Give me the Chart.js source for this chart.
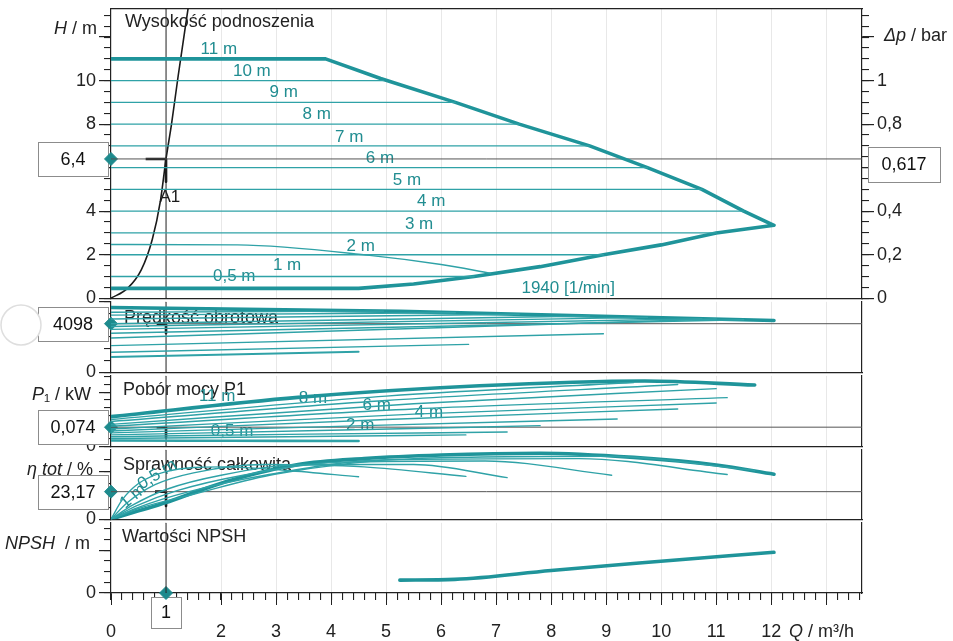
<!DOCTYPE html>
<html>
<head>
<meta charset="utf-8">
<script src="https://cdn.jsdelivr.net/npm/chart.js"></script>
<style>
  html, body { margin: 0; padding: 0; background: #fff; }
  #wrap { position: relative; width: 953px; height: 641px; overflow: hidden; background: #fff; }
  #wrap canvas { position: absolute; left: 0; }
</style>
</head>
<body>
<div id="wrap">
  <canvas id="cH"></canvas>
  <canvas id="cN"></canvas>
  <canvas id="cP"></canvas>
  <canvas id="cE"></canvas>
  <canvas id="cS"></canvas>
</div>
<script>
// ===== Data =====

// shared Q axis / operating point
const Q_MAX = 13.65;
const opQ = 1;
const opH = 6.4;
const opDp = 0.617;
const opSpeed = 4098;
const opPower = 0.074;
const opEff = 23.17;

// Wysokość podnoszenia (H / m)
const H_MAX = 13.3;
const DP_PER_M = 0.1;
const envQ = [0, 3.9, 4.9, 6.26, 7.42, 8.7, 9.75, 10.74, 11.5, 12.05, 11.0, 10.0, 8.95, 7.8, 6.6, 5.5, 4.5, 0];
const envH = [11, 11, 10.1, 9.0, 8.0, 7.0, 6.0, 5.0, 4.0, 3.35, 3.0, 2.45, 2.0, 1.45, 1.0, 0.65, 0.45, 0.45];
const headLevels = [10, 9, 8, 7, 6, 5, 4, 3, 2, 1];
const headEndQ = [4.95, 6.26, 7.42, 8.7, 9.75, 10.74, 11.5, 11.0, 8.95, 6.6];
const droopQ = [0, 2.3, 4.7, 6.0, 6.9];
const droopH = [2.47, 2.45, 1.97, 1.55, 1.15];
const sysQ = [0, 0.3, 0.55, 0.75, 0.9, 1.0, 1.1, 1.22, 1.4];
const sysH = [0, 0.45, 1.3, 2.7, 4.5, 6.4, 8.0, 10.2, 13.3];
const hLabelText = ['11 m', '10 m', '9 m', '8 m', '7 m', '6 m', '5 m', '4 m', '3 m', '2 m', '1 m', '0,5 m', '1940 [1/min]'];
const hLabelQ = [1.96, 2.56, 3.14, 3.74, 4.33, 4.89, 5.38, 5.82, 5.6, 4.54, 3.2, 2.24, 8.31];
const hLabelH = [11.44, 10.44, 9.44, 8.44, 7.4, 6.45, 5.4, 4.45, 3.4, 2.4, 1.5, 1.0, 0.45];

// Prędkość obrotowa (1/min)
const SPEED_MAX = 5950;
const speedEnvQ = [0, 5.25, 12.05];
const speedEnv = [5464, 5142, 4371];
const speedStart = [5062, 4821, 4500, 4098, 3857, 3616, 3295, 2893, 2250, 1687, 1286];
const speedEndQ = [4.95, 6.26, 7.42, 8.7, 9.75, 10.74, 11.5, 11.0, 8.95, 6.5, 4.5];
const speedEnd = [5160, 5027, 4896, 4751, 4632, 4519, 4433, 4490, 3246, 2354, 1736];

// Pobór mocy P1 (kW)
const P_MAX = 0.274;
const powEnvQ = [0, 3.4, 6.7, 9.7, 11.7];
const powEnv = [0.115, 0.19, 0.235, 0.254, 0.238];
const powStart = [0.104, 0.096, 0.085, 0.078, 0.067, 0.059, 0.052, 0.044, 0.037, 0.030, 0.022];
const powMidQ = [5.0, 5.0, 5.5, 5.5, 5.5, 5.0, 4.6, 4.0, 3.6, 3.2, 2.2];
const powMid = [0.195, 0.178, 0.165, 0.145, 0.125, 0.104, 0.080, 0.062, 0.047, 0.037, 0.021];
const powEndQ = [9.5, 10.3, 11.0, 11.2, 11.0, 10.3, 9.2, 7.8, 7.2, 6.45, 4.5];
const powEnd = [0.248, 0.240, 0.224, 0.189, 0.168, 0.145, 0.106, 0.080, 0.055, 0.044, 0.020];
const pLabelText = ['11 m', '8 m', '6 m', '4 m', '2 m', '0,5 m'];
const pLabelQ = [1.93, 3.67, 4.83, 5.78, 4.53, 2.2];
const pLabelP = [0.193, 0.185, 0.159, 0.130, 0.081, 0.056];

// Sprawność całkowita (%)
const EFF_MAX = 58.4;
const effEnvQ = [0, 0.5, 1.0, 1.6, 2.2, 3.4, 4.6, 6.0, 7.8, 9.5, 11.0, 12.05];
const effEnv = [0, 7, 14, 24, 33, 46, 51, 54, 55.5, 52, 45.6, 37.9];
const eff05Q = [0, 0.2, 0.5, 1.0, 2.0, 3.2, 4.5];
const eff05 = [0, 16, 30, 40, 44, 41, 35.7];
const eff1Q = [0, 0.3, 0.8, 1.5, 2.8, 4.6, 6.45];
const eff1 = [0, 14, 29, 39, 46, 44, 36];
const eff15Q = [0, 0.4, 1.0, 2.0, 3.5, 5.5, 7.2];
const eff15 = [0, 12, 25, 37, 46, 46, 35];
const eff2Q = [0, 0.45, 1.2, 2.4, 4.2, 6.8, 9.1];
const eff2 = [0, 11, 24, 37, 48, 49, 37];
const eff3Q = [0, 0.5, 1.4, 2.8, 5.0, 8.5, 11.2];
const eff3 = [0, 10, 23, 37, 50, 51, 37.6];
const eff4Q = [0, 0.5, 1.5, 3.0, 5.5, 9.0, 11.7];
const eff4 = [0, 9, 21, 38, 51, 53, 41];
const eLabelText = ['0,5 m', '1 m'];
const eLabelQ = [0.84, 0.4];
const eLabelE = [37.6, 19.2];
const eLabelAngle = [-32, -40];

// Wartości NPSH (m)
const NPSH_MAX = 6.55;
const npshQ = [5.25, 6.25, 8.0, 9.6, 12.05];
const npsh = [1.2, 1.27, 2.1, 2.8, 3.8];

// ===== Styling =====
const FONT = "'Liberation Sans', Arial, Helvetica, sans-serif";
const INK = '#222';
const TEAL = '#2fa2a7';
const TEAL_THICK = '#1f949a';
const TEAL_TEXT = '#218d91';
const MARK = '#1d8a8d';
const GRID = 'rgba(0,0,0,0.09)';
Chart.defaults.font.family = FONT;

function pts(xs, ys) { return xs.map((x, i) => ({ x, y: ys[i] })); }
function comma(v) { return String(+v.toFixed(3)).replace('.', ','); }

function line(data, o) {
  return Object.assign({
    data, showLine: true, borderColor: TEAL, borderWidth: 1.4,
    pointRadius: 0, pointHoverRadius: 0, tension: 0, fill: false,
    borderJoinStyle: 'round', borderCapStyle: 'round'
  }, o || {});
}
function thick(data, o) {
  return line(data, Object.assign({ borderColor: TEAL_THICK, borderWidth: 3.6 }, o || {}));
}
function diamond(x, y, axis) {
  return {
    data: [{ x, y }], showLine: false, pointStyle: 'rectRot', pointRadius: 6.5,
    pointHoverRadius: 6.5, pointBackgroundColor: MARK, pointBorderColor: MARK,
    clip: false, yAxisID: axis || 'y'
  };
}
// operating point helpers: value line, Q=1 line and the small corner mark
function opLines(value, yMax, drop, reach) {
  return [
    line(pts([0, Q_MAX], [value, value]), { borderColor: '#555', borderWidth: 1 }),
    line(pts([opQ, opQ], [0, yMax]), { borderColor: '#2a2a2a', borderWidth: 1 }),
    line(pts([opQ - reach, opQ, opQ], [value, value, value - drop]), { borderColor: '#111', borderWidth: 2.6, borderCapStyle: 'butt' })
  ];
}

function drawRich(ctx, parts, x, y, align) {
  const fonts = parts.map(p => (p.it ? 'italic ' : '') + '18px ' + FONT);
  let w = 0;
  parts.forEach((p, i) => { ctx.font = fonts[i]; w += ctx.measureText(p.t).width; });
  let cx = align === 'right' ? x - w : x;
  ctx.textAlign = 'left';
  ctx.textBaseline = 'middle';
  ctx.fillStyle = INK;
  parts.forEach((p, i) => { ctx.font = fonts[i]; ctx.fillText(p.t, cx, y); cx += ctx.measureText(p.t).width; });
}

function valueBox(ctx, text, x, y, w, h) {
  ctx.fillStyle = '#fff';
  ctx.fillRect(x, y, w, h);
  ctx.strokeStyle = '#8c8c8c';
  ctx.lineWidth = 1;
  ctx.strokeRect(Math.round(x) + 0.5, Math.round(y) + 0.5, w, h);
  ctx.fillStyle = '#111';
  ctx.font = '18px ' + FONT;
  ctx.textAlign = 'center';
  ctx.textBaseline = 'middle';
  ctx.fillText(text, x + w / 2, y + h / 2 + 1);
}

const annot = {
  id: 'annot',
  beforeDatasetsDraw(chart, args, o) {
    const ctx = chart.ctx, a = chart.chartArea;
    const xs = chart.scales.x;
    ctx.save();
    if (o.title) {
      ctx.font = '18px ' + FONT;
      ctx.fillStyle = INK;
      ctx.textAlign = 'left';
      ctx.textBaseline = 'middle';
      ctx.fillText(o.title, a.left + o.titleDx, a.top + o.titleDy);
    }
    (o.labels || []).forEach(l => {
      const ys = chart.scales[l.axis || 'y'];
      ctx.save();
      ctx.translate(xs.getPixelForValue(l.q), ys.getPixelForValue(l.v));
      if (l.angle) ctx.rotate(l.angle * Math.PI / 180);
      ctx.font = '17px ' + FONT;
      ctx.fillStyle = l.color || TEAL_TEXT;
      ctx.textAlign = 'center';
      ctx.textBaseline = 'middle';
      ctx.fillText(l.text, 0, 0);
      ctx.restore();
    });
    (o.boxes || []).forEach(b => {
      if (b.side === 'left') {
        valueBox(ctx, b.text, 38, chart.scales.y.getPixelForValue(b.v) - 17, 70, 34);
      } else if (b.side === 'right') {
        valueBox(ctx, b.text, 868, chart.scales.r.getPixelForValue(b.v) - 17, 72, 35);
      } else {
        valueBox(ctx, b.text, xs.getPixelForValue(b.v) - 15, a.bottom + 4, 30, 31);
      }
    });
    ctx.restore();
  },
  afterDraw(chart, args, o) {
    const ctx = chart.ctx;
    const top = chart.canvas.offsetTop;
    ctx.save();
    (o.axisLabels || []).forEach(l => drawRich(ctx, l.parts, l.x, l.y - top, l.align));
    if (o.hole) {
      ctx.beginPath();
      ctx.arc(o.hole.x, o.hole.y - top, o.hole.r, 0, Math.PI * 2);
      ctx.fillStyle = '#fff';
      ctx.fill();
      ctx.strokeStyle = '#dedede';
      ctx.lineWidth = 1.5;
      ctx.stroke();
    }
    ctx.restore();
  }
};

function yMajor(position, min, max, step, label, width) {
  return {
    type: 'linear', position, weight: 1, min, max,
    ticks: { stepSize: step, autoSkip: false, includeBounds: false, padding: 3,
      font: { family: FONT, size: 18 }, color: INK, callback: label },
    grid: { drawOnChartArea: false, tickLength: 12, tickColor: INK, color: INK, lineWidth: 1.2 },
    border: { display: true, color: INK, width: 1.2 },
    afterFit: s => { s.width = width; }
  };
}
function minorAxis(position, min, max, step) {
  const horizontal = position === 'top' || position === 'bottom';
  return {
    type: 'linear', position, weight: 0, min, max,
    ticks: { stepSize: step, autoSkip: false, includeBounds: false, callback: () => '' },
    grid: { drawOnChartArea: false, tickLength: 7, tickColor: INK, color: INK, lineWidth: 1.1 },
    border: { display: false },
    afterFit: s => { if (horizontal) s.height = 0; else s.width = 0; }
  };
}

function makePanel(id, top, bottom, cfg) {
  const PAD = 12;
  const xh = cfg.xLabels ? 48 : 0;
  const padBottom = cfg.xLabels ? 0 : PAD;
  const canvas = document.getElementById(id);
  canvas.width = 953;
  canvas.height = bottom - top + PAD + padBottom + xh;
  canvas.style.top = (top - PAD) + 'px';

  const scales = {
    x: {
      type: 'linear', position: 'bottom', weight: 1, min: 0, max: Q_MAX,
      ticks: { display: !!cfg.xLabels, stepSize: 1, autoSkip: false, includeBounds: false,
        maxRotation: 0, padding: 16, font: { family: FONT, size: 18 }, color: INK,
        callback: v => (v === opQ || v > 12) ? '' : String(v) },
      grid: { color: c => (c.tick && c.tick.value > 0) ? GRID : 'rgba(0,0,0,0)',
        drawTicks: !!cfg.xLabels, tickLength: 12, tickColor: INK, lineWidth: 1 },
      border: { display: true, color: INK, width: 1.2 },
      afterFit: s => { s.height = xh; }
    },
    y: yMajor('left', 0, cfg.y.max, cfg.y.major, cfg.y.label, 111),
    yMinor: minorAxis('left', 0, cfg.y.max, cfg.y.minor)
  };
  if (cfg.xLabels) scales.xMinor = minorAxis('bottom', 0, Q_MAX, 0.2);
  if (cfg.topBorder) {
    scales.xTop = {
      type: 'linear', position: 'top', min: 0, max: Q_MAX,
      ticks: { display: false },
      grid: { drawOnChartArea: false, drawTicks: false },
      border: { display: true, color: INK, width: 1.2 },
      afterFit: s => { s.height = 0; }
    };
  }
  if (cfg.r) {
    scales.r = yMajor('right', 0, cfg.r.max, cfg.r.major, cfg.r.label, 91);
    scales.rMinor = minorAxis('right', 0, cfg.r.max, cfg.r.minor);
  } else {
    scales.r = {
      type: 'linear', position: 'right', min: 0, max: 1,
      ticks: { display: false },
      grid: { drawOnChartArea: false, drawTicks: false },
      border: { display: true, color: INK, width: 1.2 },
      afterFit: s => { s.width = 91; }
    };
  }

  return new Chart(canvas, {
    type: 'scatter',
    data: { datasets: cfg.datasets },
    options: {
      responsive: false,
      animation: false,
      devicePixelRatio: 1,
      events: [],
      layout: { padding: { top: PAD, bottom: padBottom, left: 0, right: 0 } },
      scales,
      plugins: { legend: { display: false }, tooltip: { enabled: false }, annot: cfg.annot }
    },
    plugins: [annot]
  });
}

const zeroOnly = v => (v === 0 ? '0' : '');

// ----- H panel -----
makePanel('cH', 7, 300, {
  topBorder: true,
  y: { max: H_MAX, major: 2, minor: 0.5, label: v => (v <= 10 ? String(v) : '') },
  r: { max: H_MAX * DP_PER_M, major: 0.2, minor: 0.05, label: v => (v > 1.01 ? '' : comma(v)) },
  datasets: [
    ...headLevels.map((h, i) => line(pts([0, headEndQ[i]], [h, h]))),
    line(pts(droopQ, droopH), { cubicInterpolationMode: 'monotone' }),
    thick(pts(envQ, envH)),
    ...opLines(opH, H_MAX, 1.05, 0.37),
    line(pts(sysQ, sysH), { borderColor: '#1a1a1a', borderWidth: 1.6, cubicInterpolationMode: 'monotone' }),
    diamond(0, opH),
    diamond(Q_MAX, opDp, 'r')
  ],
  annot: {
    title: 'Wysokość podnoszenia', titleDx: 14, titleDy: 13,
    labels: hLabelText.map((t, i) => ({ text: t, q: hLabelQ[i], v: hLabelH[i] }))
      .concat([{ text: 'A1', q: 1.07, v: 4.63, color: '#1a1a1a' }]),
    boxes: [{ side: 'left', text: comma(opH), v: opH }, { side: 'right', text: comma(opDp), v: opDp }],
    axisLabels: [
      { parts: [{ t: 'H', it: true }, { t: ' / m' }], x: 97, y: 29, align: 'right' },
      { parts: [{ t: 'Δp', it: true }, { t: ' / bar' }], x: 884, y: 36, align: 'left' }
    ]
  }
});

// ----- speed panel -----
makePanel('cS', 300, 374, {
  y: { max: SPEED_MAX, major: 5000, minor: 1000, label: zeroOnly },
  datasets: [
    ...speedStart.map((s, i) => line(pts([0, speedEndQ[i]], [s, speedEnd[i]]), { borderWidth: i === speedStart.length - 1 ? 2 : 1.4 })),
    thick(pts(speedEnvQ, speedEnv)),
    ...opLines(opSpeed, SPEED_MAX, 800, 0.17),
    diamond(0, opSpeed)
  ],
  annot: {
    title: 'Prędkość obrotowa', titleDx: 13, titleDy: 16,
    boxes: [{ side: 'left', text: String(opSpeed), v: opSpeed }],
    hole: { x: 21, y: 325, r: 20 }
  }
});

// ----- power panel -----
makePanel('cP', 374, 448, {
  y: { max: P_MAX, major: 0.21, minor: 0.03, label: zeroOnly },
  datasets: [
    ...powStart.map((p, i) => line(pts([0, powMidQ[i], powEndQ[i]], [p, powMid[i], powEnd[i]]),
      { cubicInterpolationMode: 'monotone', borderWidth: i === powStart.length - 1 ? 2.6 : 1.4 })),
    thick(pts(powEnvQ, powEnv), { cubicInterpolationMode: 'monotone' }),
    ...opLines(opPower, P_MAX, 0.04, 0.17),
    diamond(0, opPower)
  ],
  annot: {
    title: 'Pobór mocy P1', titleDx: 12, titleDy: 14,
    labels: pLabelText.map((t, i) => ({ text: t, q: pLabelQ[i], v: pLabelP[i] })),
    boxes: [{ side: 'left', text: comma(opPower), v: opPower }],
    axisLabels: [{ parts: [{ t: 'P', it: true }, { t: '₁ / kW' }], x: 91, y: 395, align: 'right' }]
  }
});

// ----- efficiency panel -----
makePanel('cE', 448, 521, {
  y: { max: EFF_MAX, major: 40, minor: 10, label: zeroOnly },
  datasets: [
    line(pts(eff05Q, eff05), { cubicInterpolationMode: 'monotone' }),
    line(pts(eff1Q, eff1), { cubicInterpolationMode: 'monotone' }),
    line(pts(eff15Q, eff15), { cubicInterpolationMode: 'monotone' }),
    line(pts(eff2Q, eff2), { cubicInterpolationMode: 'monotone' }),
    line(pts(eff3Q, eff3), { cubicInterpolationMode: 'monotone' }),
    line(pts(eff4Q, eff4), { cubicInterpolationMode: 'monotone' }),
    thick(pts(effEnvQ, effEnv), { cubicInterpolationMode: 'monotone' }),
    ...opLines(opEff, EFF_MAX, 12, 0.2),
    diamond(0, opEff)
  ],
  annot: {
    title: 'Sprawność całkowita', titleDx: 12, titleDy: 15,
    labels: eLabelText.map((t, i) => ({ text: t, q: eLabelQ[i], v: eLabelE[i], angle: eLabelAngle[i] })),
    boxes: [{ side: 'left', text: comma(opEff), v: opEff }],
    axisLabels: [{ parts: [{ t: 'η tot', it: true }, { t: ' / %' }], x: 93, y: 470, align: 'right' }]
  }
});

// ----- NPSH panel -----
makePanel('cN', 521, 593, {
  xLabels: true,
  y: { max: NPSH_MAX, major: 4, minor: 1, label: zeroOnly },
  datasets: [
    thick(pts(npshQ, npsh), { cubicInterpolationMode: 'monotone' }),
    line(pts([opQ, opQ], [0, NPSH_MAX]), { borderColor: '#2a2a2a', borderWidth: 1 }),
    diamond(opQ, 0)
  ],
  annot: {
    title: 'Wartości NPSH', titleDx: 11, titleDy: 14,
    boxes: [{ side: 'bottom', text: String(opQ), v: opQ }],
    axisLabels: [
      { parts: [{ t: 'NPSH', it: true }, { t: '  / m' }], x: 90, y: 544, align: 'right' },
      { parts: [{ t: 'Q', it: true }, { t: ' / m³/h' }], x: 789, y: 632, align: 'left' }
    ]
  }
});
</script>
</body>
</html>
